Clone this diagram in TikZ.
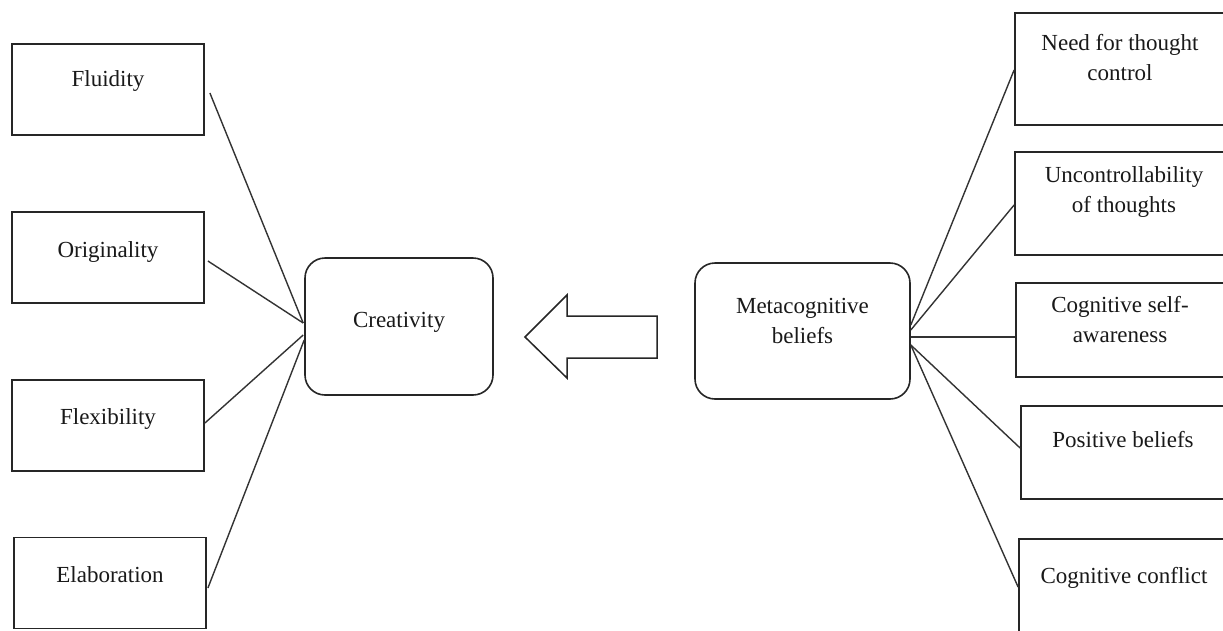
\documentclass[tikz,border=0pt]{standalone}
\usepackage{fontspec}
\setmainfont{Liberation Serif}
\usetikzlibrary{calc}
\tikzset{
  sqbox/.style={draw=black!85, line width=1.8pt, inner sep=0pt, minimum width=192pt, minimum height=91pt},
  rtbox/.style={draw=black!85, line width=1.8pt, inner sep=0pt},
  rndbox/.style={draw=black!85, line width=1.6pt, rounded corners=20pt, inner sep=0pt},
  txt/.style={font=\fontsize{23}{30}\selectfont, align=center, inner sep=0pt, anchor=base, text=black!90},
  link/.style={draw=black!80, line width=1.4pt},
  blockarrow/.style={draw=black!85, line width=1.5pt, fill=white, line join=miter}
}
\begin{document}
\begin{tikzpicture}[x=1pt,y=-1pt]
\useasboundingbox (0,0) rectangle (1223,630);
\clip (0,0) rectangle (1223,630);
\fill[white] (0,0) rectangle (1223,630);

% left boxes
\node[sqbox] (flu) at (108,89.5) {};
\node[sqbox] (ori) at (108,257.5) {};
\node[sqbox] (fle) at (108,425.5) {};
\node[sqbox] (ela) at (110,583) {};
\node[txt] (fluT) at (108,86) {Fluidity};
\node[txt] (oriT) at (108,257) {Originality};
\node[txt] (fleT) at (108,424) {Flexibility};
\node[txt] (elaT) at (110,582) {Elaboration};

% centre boxes
\node[rndbox, minimum width=188pt, minimum height=137pt] (cre) at (399,326.5) {};
\node[txt] (creT) at (399,327) {Creativity};
\node[rndbox, minimum width=215pt, minimum height=136pt] (met) at (802.5,331) {};
\node[txt] (metT) at (802.5,343) {Metacognitive\\beliefs};

% block arrow
\coordinate (aTip) at (525,337);
\draw[blockarrow] (aTip) -- (567,295) -- (567,316) -- (657,316) -- (657,358) -- (567,358) -- (567,378) -- cycle;

% right boxes (cut by the picture edge)
\node[rtbox, minimum width=215pt, minimum height=112pt] (b1) at (1122.5,69) {};
\node[rtbox, minimum width=215pt, minimum height=103pt] (b2) at (1122.5,203.5) {};
\node[rtbox, minimum width=214pt, minimum height=94pt] (b3) at (1123,330) {};
\node[rtbox, minimum width=209pt, minimum height=93pt] (b4) at (1125.5,452.5) {};
\node[rtbox, minimum width=211pt, minimum height=96pt] (b5) at (1124.5,587) {};
\node[txt] (b1T) at (1120,80) {Need for thought\\control};
\node[txt] (b2T) at (1124,212) {Uncontrollability\\of thoughts};
\node[txt] (b3T) at (1120,342) {Cognitive self-\\awareness};
\node[txt] (b4T) at (1123,447) {Positive beliefs};
\node[txt] (b5T) at (1124,583) {Cognitive conflict};

% left connectors
\draw[link] ($(flu.east)+(5,3.5)$) -- ($(cre.west)+(-1,-3.5)$);
\draw[link] ($(ori.east)+(3,3.5)$) -- ($(cre.west)+(-1,-3.5)$);
\draw[link] ($(fle.east)+(0,-2.5)$) -- ($(cre.west)+(-1,8.5)$);
\draw[link] ($(ela.east)+(1,5)$) -- ($(cre.west)+(0,13.5)$);

% right connectors
\draw[link] ($(met.east)+(0,-6)$) -- ($(b1.west)+(0,1)$);
\draw[link] ($(met.east)+(0,-1)$) -- ($(b2.west)+(0,1.5)$);
\draw[link] ($(met.east)+(0,6)$) -- ($(b3.west)+(0,7)$);
\draw[link] ($(met.east)+(0,14)$) -- ($(b4.west)+(0,-4.5)$);
\draw[link] ($(met.east)+(0,14)$) -- ($(b5.west)+(0,0)$);
\end{tikzpicture}
\end{document}
